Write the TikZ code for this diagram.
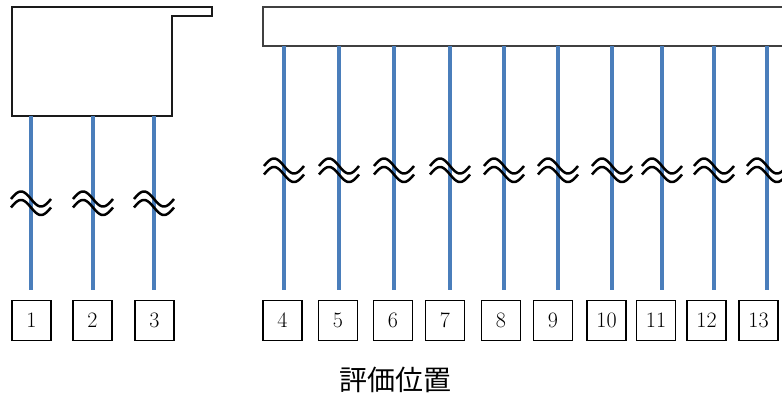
\documentclass[tikz,border=0pt]{standalone}
\usepackage{fontspec}
\newfontfamily\cjk{Noto Sans CJK JP}
\usetikzlibrary{positioning}
\definecolor{pipe-blue}{HTML}{4A7EBB}
\definecolor{outline}{HTML}{1A1A1A}
\definecolor{header-line}{HTML}{404040}
\tikzset{
  pipe/.style={draw=pipe-blue, line width=3.6pt, shorten >=10pt},
  body/.style={draw=outline, line width=1.3pt, fill=white},
  posbox/.style={
    rectangle, draw=black, line width=1.3pt,
    minimum width=39pt, minimum height=40pt, inner sep=0pt,
    font=\fontsize{22}{24}\selectfont
  },
  wave/.style={draw=black, line width=2.5pt},
  cut/.pic={
    \draw[wave] plot[domain=-20:20, samples=40, smooth] (\x, {-4 + 7.5*sin(9*\x)});
    \draw[wave] plot[domain=-20:20, samples=40, smooth] (\x, {4.5 + 7.5*sin(9*\x)});
  },
  caption/.style={font=\cjk\fontsize{28}{32}\selectfont}
}

\begin{document}
\begin{tikzpicture}[x=1pt, y=-1pt]
  \useasboundingbox (0,0) rectangle (782,398);

  % ---- Structures ----------------------------------------------------------
  \draw[body] (12,7) -- (212,7) -- (212,16) -- (172,16) -- (172,116)
              -- (12,116) -- cycle;
  \draw[body, draw=header-line] (782,7) -- (263,7) -- (263,46) -- (782,46);

  % ---- Evaluation positions ------------------------------------------------
  \node[posbox] (b1)  at (31.5,  320.5) {1};
  \node[posbox] (b2)  at (92.5,  320.5) {2};
  \node[posbox] (b3)  at (154.5, 320.5) {3};
  \node[posbox] (b4)  at (282.5, 320.5) {4};
  \node[posbox] (b5)  at (338,   320.5) {5};
  \node[posbox] (b6)  at (393,   320.5) {6};
  \node[posbox] (b7)  at (445,   320.5) {7};
  \node[posbox] (b8)  at (501,   320.5) {8};
  \node[posbox] (b9)  at (553,   320.5) {9};
  \node[posbox] (b10) at (606.5, 320.5) {10};
  \node[posbox] (b11) at (656,   320.5) {11};
  \node[posbox] (b12) at (706.5, 320.5) {12};
  \node[posbox] (b13) at (758.5, 320.5) {13};

  % ---- Piles (with break marks) --------------------------------------------
  \foreach \k/\x in {1/31, 2/93, 3/154} {
    \coordinate (t\k) at (\x,116);
    \draw[pipe] (t\k) -- (t\k |- b\k.north);
    \pic at (\x,203) {cut};
  }
  \foreach \k/\x in {4/284, 5/339, 6/394, 7/450, 8/504, 9/558,
                     10/612, 11/662, 12/714, 13/767} {
    \coordinate (t\k) at (\x,46);
    \draw[pipe] (t\k) -- (t\k |- b\k.north);
    \pic at (\x,170) {cut};
  }

  % ---- Caption -------------------------------------------------------------
  \node[caption] (cap) at (395,380) {評価位置};

\end{tikzpicture}
\end{document}
